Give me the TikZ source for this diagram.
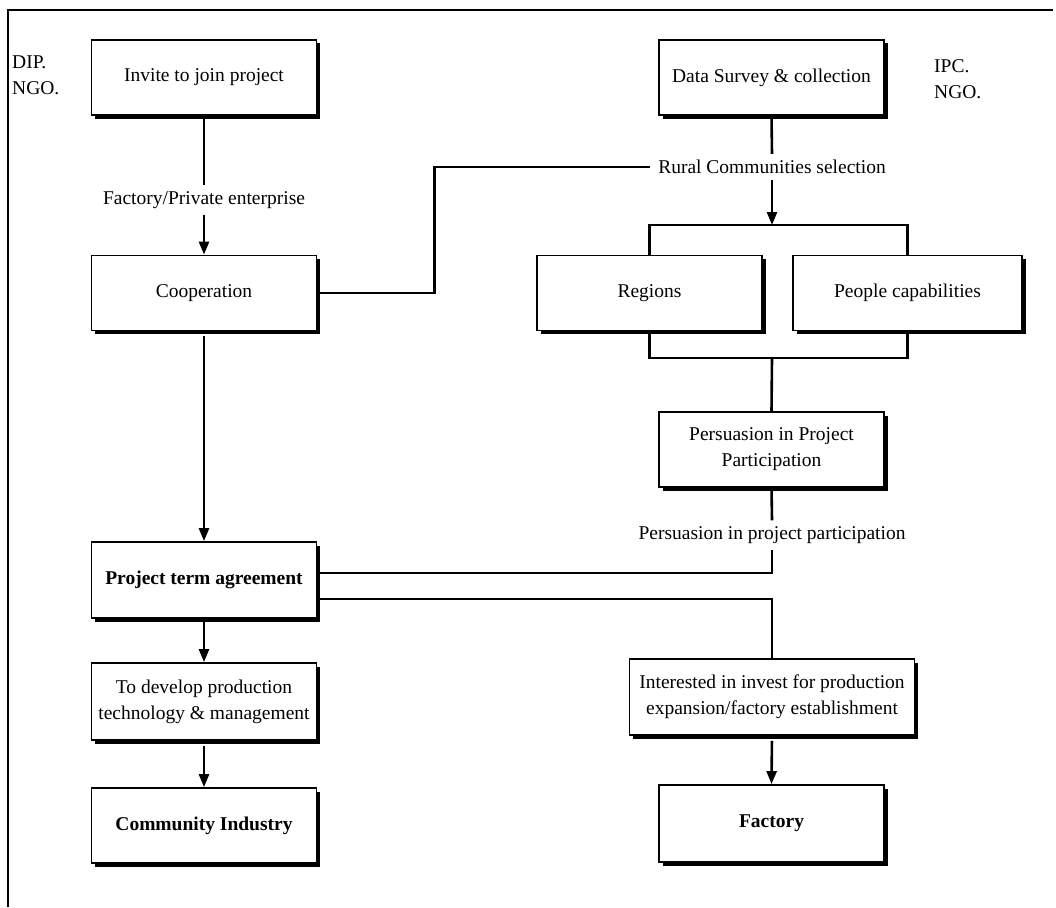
\documentclass[tikz,border=0pt]{standalone}
\usepackage{fontspec}
\setmainfont{Liberation Serif}
\usetikzlibrary{arrows.meta,shadows,calc}
\begin{document}
\begin{tikzpicture}[x=1pt,y=-1pt,
  every node/.style={font=\fontsize{19.5}{26}\selectfont, inner sep=0pt},
  box/.style={draw, line width=1.8pt, fill=white, minimum width=225, minimum height=75, align=center,
    drop shadow={shadow xshift=3.5pt, shadow yshift=-3.5pt, fill=black, opacity=1}},
  lbl/.style={fill=white, inner xsep=8pt, inner ysep=6pt},
  conn/.style={line width=2.6pt},
  arr/.style={line width=2.6pt, -{Triangle[length=13pt,width=10pt]}}
]
\useasboundingbox (0,0) rectangle (1056,907);
% frame
\draw[line width=2.4pt] (8,907) -- (8,10) -- (1053,10);
\node[anchor=north west, align=left] (dip) at (12,56) {DIP.\\NGO.};
\node[anchor=north west, align=left] (ipc) at (934,59) {IPC.\\NGO.};

% left column
\node[box] (invite) at (204,77.5) {Invite to join project};
\node[lbl] (fpe) at (204,200) {Factory/Private enterprise};
\node[box] (coop) at (204,293) {Cooperation};
\node[box, minimum height=76] (project) at (204,580) {\textbf{Project term agreement}};
\node[box, minimum height=77] (develop) at (204,701.5) {To develop production\\technology \& management};
\node[box] (community) at (204,825.5) {\textbf{Community Industry}};

% right column
\node[box] (data) at (771.5,77.5) {Data Survey \& collection};
\node[lbl] (rural) at (772,167) {Rural Communities selection};
\node[box] (regions) at (649.5,293) {Regions};
\node[box, minimum width=229] (people) at (907.5,293) {People capabilities};
\node[box] (persuasion) at (771.5,449.5) {Persuasion in Project\\Participation};
\node[lbl] (ppl) at (772,535) {Persuasion in project participation};
\node[box, minimum width=285, minimum height=76] (interested) at (772,697) {Interested in invest for production\\expansion/factory establishment};
\node[box, minimum height=77] (factory) at (771.5,823.5) {\textbf{Factory}};

\coordinate (btop) at (772,225);
\coordinate (bbot) at (772,358);

% connectors
\draw[conn] (invite.south) -- (fpe.north);
\draw[arr] (fpe.south) -- (coop.north);
\draw[arr, shorten <=5pt] (coop.south) -- (project.north);
\draw[arr, shorten <=3pt] (project.south) -- (develop.north);
\draw[arr, shorten <=5pt] (develop.south) -- (community.north);
\draw[conn, shorten <=3pt] (coop.east) -- ++(117,0) |- (rural.west);
\draw[conn, shorten <=3pt] (data.south) -- (rural.north);
\draw[arr] (rural.south) -- (btop);
\draw[conn] (regions.north) |- (btop) -| (people.north);
\draw[conn, shorten <=3pt, shorten >=3pt] (regions.south) |- (bbot) -| (people.south);
\draw[conn] (bbot) -- (persuasion.north);
\draw[conn, shorten <=3pt] (persuasion.south) -- (ppl.north);
\draw[conn, shorten >=3pt] (ppl.south) |- ([yshift=7pt]project.east);
\draw[conn, shorten <=3pt] ([yshift=-19pt]project.east) -| (interested.north);
\draw[arr, shorten <=5pt] (interested.south) -- (factory.north);
\end{tikzpicture}
\end{document}
